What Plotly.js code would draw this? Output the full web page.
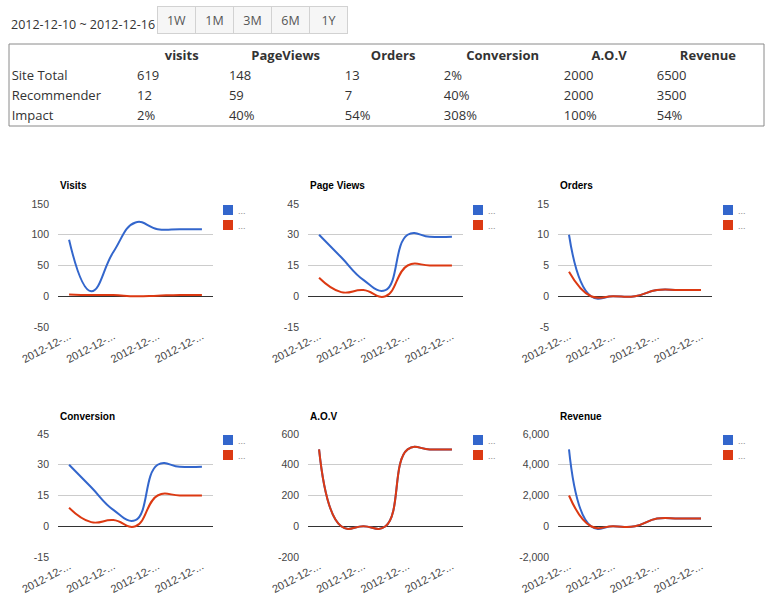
<!DOCTYPE html>
<html><head><meta charset="utf-8">
<script src="https://cdn.plot.ly/plotly-3.0.1.min.js"></script>
<style>html,body{margin:0;padding:0;background:#fff;} #chart{width:770px;height:601px;}</style>
</head><body><div id="chart"></div>
<script>
// ---------- data ----------
const dates = ['2012-12-10','2012-12-11','2012-12-12','2012-12-13','2012-12-14','2012-12-15','2012-12-16'];
const xTickDates = ['2012-12-10','2012-12-12','2012-12-14','2012-12-16'];
const xTickText = ['2012-12-...','2012-12-...','2012-12-...','2012-12-...'];
const rangeButtons = ['1W','1M','3M','6M','1Y'];
const seriesNames = ['Site Total','Recommender'];

const tableHeaders = ['', 'visits', 'PageViews', 'Orders', 'Conversion', 'A.O.V', 'Revenue'];
const tableRowLabels = ['Site Total', 'Recommender', 'Impact'];
const siteTotalRow = ['619', '148', '13', '2%', '2000', '6500'];
const recommenderRow = ['12', '59', '7', '40%', '2000', '3500'];
const impactRow = ['2%', '40%', '54%', '308%', '100%', '54%'];

const visitsSite = [92, 8, 72, 120, 109, 109, 109];
const visitsRec = [3, 2, 2, 0, 1, 2, 2];
const pageViewsSite = [30, 19, 8, 3, 30, 29, 29];
const pageViewsRec = [9, 2, 3, 0, 15, 15, 15];
const ordersSite = [10, 0, 0, 0, 1, 1, 1];
const ordersRec = [4, 0, 0, 0, 1, 1, 1];
const conversionSite = [30, 19, 8, 3, 30, 29, 29];
const conversionRec = [9, 2, 3, 0, 15, 15, 15];
const aovSite = [500, 0, 0, 0, 500, 500, 500];
const aovRec = [500, 0, 0, 0, 500, 500, 500];
const revenueSite = [5000, 0, 0, 0, 500, 500, 500];
const revenueRec = [2000, 0, 0, 0, 500, 500, 500];

const visitsTicks = [-50, 0, 50, 100, 150];
const visitsTickText = ['-50', '0', '50', '100', '150'];
const pageViewsTicks = [-15, 0, 15, 30, 45];
const pageViewsTickText = ['-15', '0', '15', '30', '45'];
const ordersTicks = [-5, 0, 5, 10, 15];
const ordersTickText = ['-5', '0', '5', '10', '15'];
const conversionTicks = [-15, 0, 15, 30, 45];
const conversionTickText = ['-15', '0', '15', '30', '45'];
const aovTicks = [-200, 0, 200, 400, 600];
const aovTickText = ['-200', '0', '200', '400', '600'];
const revenueTicks = [-2000, 0, 2000, 4000, 6000];
const revenueTickText = ['-2,000', '0', '2,000', '4,000', '6,000'];

// ---------- layout helpers ----------
const W = 770, H = 601;
const px = v => v / W;
const py = v => 1 - v / H;
const BLUE = '#3366cc', RED = '#dc3912';

const panels = [
  {title: 'Visits', s: visitsSite, r: visitsRec, t: visitsTicks, tt: visitsTickText},
  {title: 'Page Views', s: pageViewsSite, r: pageViewsRec, t: pageViewsTicks, tt: pageViewsTickText},
  {title: 'Orders', s: ordersSite, r: ordersRec, t: ordersTicks, tt: ordersTickText},
  {title: 'Conversion', s: conversionSite, r: conversionRec, t: conversionTicks, tt: conversionTickText},
  {title: 'A.O.V', s: aovSite, r: aovRec, t: aovTicks, tt: aovTickText},
  {title: 'Revenue', s: revenueSite, r: revenueRec, t: revenueTicks, tt: revenueTickText}
];
const colPx = [[58, 213], [308, 463], [558, 712]];
const rowPx = [[204, 327], [434, 557]];

const data = [];
const annotations = [];
const shapes = [];
const layout = {
  width: W, height: H, autosize: false,
  margin: {l: 0, r: 0, t: 0, b: 0},
  paper_bgcolor: '#ffffff', plot_bgcolor: 'rgba(0,0,0,0)',
  showlegend: false,
  font: {family: 'Arial, "Liberation Sans", sans-serif', size: 10, color: '#444'},
  annotations: annotations, shapes: shapes
};

// ---------- summary table ----------
const nb = s => s.replace(/ /g, '\u00a0');
const tableCols = [tableRowLabels.map(nb)];
for (let j = 0; j < siteTotalRow.length; j++) {
  tableCols.push([siteTotalRow[j], recommenderRow[j], impactRow[j]]);
}
const bounds = [3.7, 129, 221, 337, 436, 556, 649, 764];
const colWidths = [];
for (let i = 0; i < bounds.length - 1; i++) colWidths.push(bounds[i + 1] - bounds[i]);
const pad4 = '\u00a0\u00a0\u00a0\u00a0';
data.push({
  type: 'table',
  domain: {x: [px(bounds[0]), px(bounds[bounds.length - 1])], y: [py(150), py(42)]},
  columnwidth: colWidths,
  header: {
    values: tableHeaders,
    prefix: ['', pad4, pad4, pad4, pad4, pad4, '\u00a0'],
    align: 'center',
    height: 20,
    fill: {color: 'rgba(0,0,0,0)'},
    line: {color: 'rgba(0,0,0,0)', width: 0},
    font: {family: '"Open Sans", sans-serif', size: 13, color: '#333', weight: 'bold'}
  },
  cells: {
    values: tableCols,
    align: 'left',
    height: 20,
    fill: {color: 'rgba(0,0,0,0)'},
    line: {color: 'rgba(0,0,0,0)', width: 0},
    font: {family: '"Open Sans", sans-serif', size: 13, color: '#333'}
  }
});
shapes.push({type: 'rect', xref: 'paper', yref: 'paper', x0: px(9), x1: px(764), y0: py(126), y1: py(44),
  line: {color: '#8a8a8a', width: 1}, fillcolor: 'rgba(0,0,0,0)'});

// date range text
annotations.push({xref: 'paper', yref: 'paper', x: px(9), y: py(25), xanchor: 'left', yanchor: 'middle',
  text: dates[0] + ' ~ ' + dates[dates.length - 1], showarrow: false,
  font: {family: '"Open Sans", sans-serif', size: 12.5, color: '#333'}});

// range buttons
rangeButtons.forEach((b, i) => {
  const x0 = 157 + 38 * i;
  annotations.push({xref: 'paper', yref: 'paper', x: px(x0), y: py(6), xanchor: 'left', yanchor: 'top',
    width: 37, height: 26, text: b, showarrow: false, bgcolor: '#f6f6f6', bordercolor: '#d2d2d2',
    borderwidth: 1, borderpad: 0, align: 'center', valign: 'middle',
    font: {family: '"Open Sans", sans-serif', size: 12.5, color: '#555'}});
});

// ---------- six charts ----------
panels.forEach((p, i) => {
  const c = i % 3, r = Math.floor(i / 3);
  const [xl, xr] = colPx[c];
  const [yt, yb] = rowPx[r];
  const sfx = i === 0 ? '' : String(i + 1);
  const xa = 'x' + sfx, ya = 'y' + sfx;
  layout['xaxis' + sfx] = {
    domain: [px(xl), px(xr)], anchor: ya, type: 'category', categoryarray: dates,
    range: [-0.5, dates.length - 0.5], showgrid: false, zeroline: false, showline: false,
    tickmode: 'array', tickvals: xTickDates, ticktext: xTickText, tickangle: -28, ticks: '',
    ticklabelstandoff: 0,
    tickfont: {family: 'Arial, "Liberation Sans", sans-serif', size: 11, color: '#444'}, fixedrange: true
  };
  layout['yaxis' + sfx] = {
    domain: [py(yb), py(yt)], anchor: xa, range: [p.t[0], p.t[p.t.length - 1]],
    tickmode: 'array', tickvals: p.t, ticktext: p.tt, ticks: '', ticklabelstandoff: 8,
    showgrid: true, gridcolor: '#cccccc', gridwidth: 1,
    zeroline: true, zerolinecolor: '#333333', zerolinewidth: 1, showline: false,
    tickfont: {family: 'Arial, "Liberation Sans", sans-serif', size: 10.5, color: '#444'}, fixedrange: true
  };
  [[p.s, BLUE, seriesNames[0]], [p.r, RED, seriesNames[1]]].forEach(([vals, col, nm]) => {
    data.push({type: 'scatter', mode: 'lines', x: dates, y: vals, xaxis: xa, yaxis: ya, name: nm,
      line: {color: col, width: 2, shape: 'spline', smoothing: 1.3}, hoverinfo: 'x+y+name'});
  });
  // title
  annotations.push({xref: 'paper', yref: 'paper', x: px(xl), y: py(yt - 18), xanchor: 'left', yanchor: 'middle',
    text: '<b>' + p.title + '</b>', showarrow: false,
    font: {family: 'Arial, "Liberation Sans", sans-serif', size: 10, color: '#000'}});
  // legend keys
  [[BLUE, 1], [RED, 16]].forEach(([col, off]) => {
    const lx = xl + 165, ly = yt + off;
    shapes.push({type: 'rect', xref: 'paper', yref: 'paper', x0: px(lx), x1: px(lx + 10), y0: py(ly + 10), y1: py(ly),
      line: {width: 0}, fillcolor: col});
    annotations.push({xref: 'paper', yref: 'paper', x: px(lx + 13), y: py(ly + 6), xanchor: 'left', yanchor: 'middle',
      text: '...', showarrow: false, font: {family: 'Arial, sans-serif', size: 9, color: '#888'}});
  });
});

Plotly.newPlot('chart', data, layout, {displayModeBar: false, staticPlot: true});
</script>
</body></html>
